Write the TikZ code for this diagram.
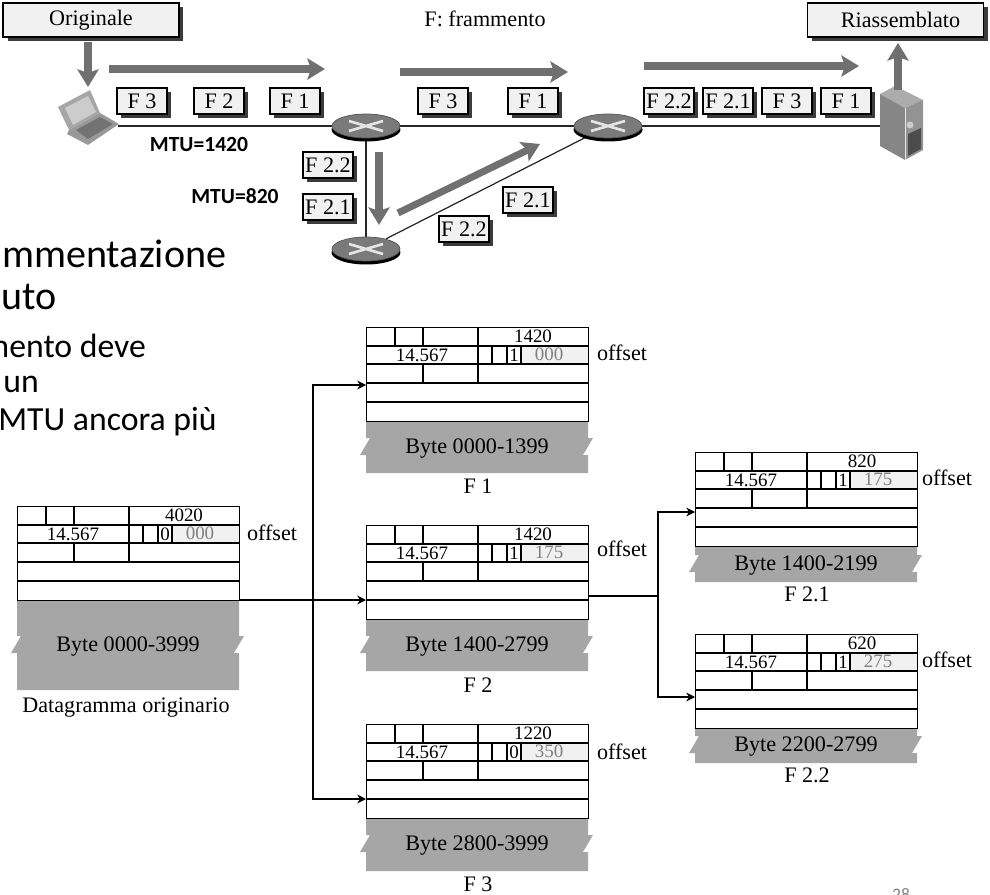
\documentclass[tikz,border=0pt]{standalone}
\usepackage{fontspec}
\setmainfont{Liberation Serif}
\newfontfamily\slidefont{Carlito}
\usepackage{tikz}
\usetikzlibrary{arrows.meta,backgrounds,positioning,calc,shapes.geometric,shadows}
\definecolor{flowgray}{RGB}{112,112,112}
\definecolor{boxfill}{RGB}{241,241,241}
\definecolor{dropshadow}{RGB}{60,60,60}
\definecolor{payload}{RGB}{166,166,166}
\definecolor{offsetgray}{RGB}{128,128,128}
\definecolor{routergray}{RGB}{122,122,122}
\newcommand{\serifsize}{\fontsize{12.6}{14}\selectfont}
\newcommand{\fieldsize}{\fontsize{10.8}{12}\selectfont}
\tikzset{
  txt/.style={inner sep=0pt,font=\serifsize},
  field/.style={inner sep=0pt,font=\fieldsize},
  titlebox/.style={draw=black,line width=.8pt,fill=boxfill,inner sep=0pt,minimum width=3.52cm,minimum height=.68cm,font=\serifsize,
    general shadow={fill=dropshadow,shadow xshift=.09cm,shadow yshift=-.09cm}},
  packet/.style={draw=black,line width=.7pt,fill=boxfill,inner sep=0pt,minimum width=1cm,minimum height=.52cm,font=\serifsize,
    general shadow={fill=dropshadow,shadow xshift=.08cm,shadow yshift=-.08cm}},
  router/.style={ellipse,draw=routergray!70!black,line width=.4pt,fill=routergray,inner sep=0pt,minimum width=1.36cm,minimum height=.48cm},
  flow/.style={flowgray,line width=4pt,-{Stealth[length=10pt,width=12pt,inset=2pt]}},
  wire/.style={line width=.7pt,draw=black!85},
  link/.style={line width=.6pt,-{Stealth[length=5pt,width=5pt]}},
  slide/.style={inner sep=0pt,anchor=west},
  slidebig/.style={slide,font=\slidefont\fontsize{22.8}{26}\selectfont},
  slidesmall/.style={slide,font=\slidefont\fontsize{19.2}{22}\selectfont},
  mtu/.style={inner sep=0pt,font=\slidefont\bfseries\fontsize{12.3}{14}\selectfont},
}
% #1 name, #2 #3 corner, #4 length, #5 flag, #6 offset, #7 byte range, #8 payload height, #9 middle of the tear
\newcommand{\datagram}[9]{
  \fill[payload] (#2,#3+94) -- (#2,#3+94+#9-8) -- (#2+4,#3+94+#9-8) -- (#2-6,#3+94+#9+9) -- (#2,#3+94+#9+9) -- (#2,#3+94+#8)
    -- (#2+222,#3+94+#8) -- (#2+222,#3+94+#9+9) -- (#2+217,#3+94+#9+9) -- (#2+227,#3+94+#9-8) -- (#2+222,#3+94+#9-8) -- (#2+222,#3+94) -- cycle;
  \fill[boxfill] (#2+155,#3+19) rectangle (#2+222,#3+37);
  \node[draw=black,line width=.7pt,inner sep=0pt,minimum width=4.44cm,minimum height=1.88cm,anchor=north west] (#1) at (#2,#3) {};
  \foreach \r in {19,37,56,75} {\draw[line width=.7pt] (#2,#3+\r) -- (#2+222,#3+\r);}
  \draw[line width=.7pt] (#2+29,#3) -- (#2+29,#3+19) (#2+57,#3) -- (#2+57,#3+19) (#2+112,#3) -- (#2+112,#3+56);
  \draw[line width=.7pt] (#2+126,#3+19) -- (#2+126,#3+37) (#2+141,#3+19) -- (#2+141,#3+37) (#2+155,#3+19) -- (#2+155,#3+37);
  \draw[line width=.7pt] (#2+57,#3+37) -- (#2+57,#3+56);
  \node[field] (#1len) at (#2+167,#3+9) {#4};
  \node[field] (#1id) at (#2+56,#3+28) {14.567};
  \node[field] (#1flag) at (#2+148,#3+28) {#5};
  \node[field,text=offsetgray] (#1off) at (#2+183,#3+27) {#6};
  \node[txt] (#1bytes) at (#2+111,#3+97+#9) {#7};
  \coordinate (#1rowc) at (#2,#3+58);
  \coordinate (#1rowd) at (#2,#3+75);
}
\newcommand{\routerat}[3]{
  \fill[black] (#2,#3+3.5) ellipse (.69cm and .24cm);
  \node[router] (#1) at (#2,#3) {};
  \draw[white!90!black,line width=1.5pt] (#2-17,#3-5) -- (#2+17,#3+5) (#2-17,#3+5) -- (#2+17,#3-5);
}
\begin{document}
\begin{tikzpicture}[x=.02cm,y=-.02cm]
\useasboundingbox (0,0) rectangle (990,895);

% text of the slide behind the figure
\node[slidebig] (slidea) at (2,254) {mmentazione};
\node[slidebig] (slideb) at (1,297) {uto};
\node[slidesmall] (slidec) at (-18,346) {mento deve};
\node[slidesmall] (slided) at (3,384) {un};
\node[slidesmall] (slidee) at (-2,422) {MTU ancora più};
\node[inner sep=0pt,text=offsetgray,font=\slidefont\fontsize{10}{12}\selectfont] (pageno) at (901,895) {28};

% top: the network
\node[titlebox] (orig) at (91,20) {Originale\hspace{.28cm}};
\node[titlebox] (reass) at (895.5,20) {\hspace*{.2cm}Riassemblato};
\node[txt] (legend) at (485,19) {F: frammento};

\routerat{ra}{366}{126}
\routerat{rb}{608}{126}
\routerat{rc}{366}{249}

% laptop
\fill[gray!80] (69,130) -- (100,113) -- (119,124) -- (88,145) -- (67,134) -- cycle;
\fill[gray!70] (58,107) -- (90,90) -- (100,113) -- (69,130) -- cycle;
\fill[gray!40] (65,108) -- (88,96) -- (96,112) -- (73,125) -- cycle;
\fill[gray!110] (76,130) -- (100,117) -- (113,124) -- (88,139) -- cycle;
\coordinate (laptop) at (118,126);

% server
\fill[gray!65] (880,94) -- (895,86) -- (923,100) -- (905,108) -- cycle;
\fill[gray!95] (880,94) -- (905,108) -- (905,160) -- (880,146) -- cycle;
\fill[gray!85] (905,108) -- (923,100) -- (923,150) -- (905,160) -- cycle;
\fill[black!70] (908,134) -- (921,128) -- (921,149) -- (908,156) -- cycle;
\fill[gray!40] (910,125) circle (3.5);
\draw[white!80!gray,line width=.4pt] (905,108) -- (905,160);
\coordinate (server) at (880,126);

\begin{scope}[on background layer]
  \draw[wire] (laptop) -- (ra.west);
  \draw[wire] (ra.east) -- (rb.west);
  \draw[wire] (rb.east) -- (server);
  \draw[wire] (ra) -- (rc);
  \draw[wire] (rc) -- (rb);
\end{scope}

\node[packet] (pa) at (142,101) {F 3};
\node[packet] (pb) at (219,101) {F 2};
\node[packet] (pc) at (295,101) {F 1};
\node[packet] (pd) at (443,101) {F 3};
\node[packet] (pe) at (533,101) {F 1};
\node[packet] (pf) at (669,101) {F 2.2};
\node[packet] (pg) at (728,101) {F 2.1};
\node[packet] (ph) at (787,101) {F 3};
\node[packet] (pi) at (846,101) {F 1};
\node[packet] (pj) at (328,165) {F 2.2};
\node[packet] (pk) at (328,207) {F 2.1};
\node[packet] (pl) at (464,229) {F 2.2};
\node[packet] (pm) at (528,200) {F 2.1};

\node[mtu] (mtua) at (199,144) {MTU=1420};
\node[mtu] (mtub) at (235,196) {MTU=820};

\coordinate (downa) at (88,42);
\coordinate (downb) at (88,87);
\coordinate (upa) at (898,90);
\coordinate (upb) at (898,43);
\coordinate (hopa) at (109,69);
\coordinate (hopb) at (325,69);
\coordinate (hopc) at (400,72);
\coordinate (hopd) at (568,72);
\coordinate (hope) at (644,66);
\coordinate (hopf) at (859,66);
\coordinate (sidea) at (379,152);
\coordinate (sideb) at (379,225);
\coordinate (diaga) at (398,213);
\coordinate (diagb) at (540,144);
\draw[flow] (downa) -- (downb);
\draw[flow] (upa) -- (upb);
\draw[flow] (hopa) -- (hopb);
\draw[flow] (hopc) -- (hopd);
\draw[flow] (hope) -- (hopf);
\draw[flow] (sidea) -- (sideb);
\draw[flow] (diaga) -- (diagb);

% bottom: the datagrams
\datagram{dg}{17}{506}{4020}{0}{000}{Byte 0000-3999}{90}{44}
\datagram{fa}{366}{327}{1420}{1}{000}{Byte 0000-1399}{52}{25}
\datagram{fb}{366}{525}{1420}{1}{175}{Byte 1400-2799}{52}{25}
\datagram{fc}{366}{724}{1220}{0}{350}{Byte 2800-3999}{53}{25}
\datagram{fd}{695}{452}{820}{1}{175}{Byte 1400-2199}{36}{17}
\datagram{fe}{695}{634}{620}{1}{275}{Byte 2200-2799}{35}{16}

\node[txt] (dgname) at (126,708) {Datagramma originario};
\node[txt] (faname) at (478,486) {F 1};
\node[txt] (fbname) at (478,685) {F 2};
\node[txt] (fcname) at (478,884) {F 3};
\node[txt] (fdname) at (807,594) {F 2.1};
\node[txt] (fename) at (807,775) {F 2.2};

\node[txt] (dgoff) at (272,533) {offset};
\node[txt] (faoff) at (622,353) {offset};
\node[txt] (fboff) at (622,549) {offset};
\node[txt] (fcoff) at (622,752) {offset};
\node[txt] (fdoff) at (947,478) {offset};
\node[txt] (feoff) at (947,660) {offset};

\coordinate (forka) at (313,600);
\coordinate (forkb) at (658,596);
\draw[line width=.6pt] (forka -| dg.east) -- (forka);
\draw[link] (forka) -- (fbrowd);
\draw[link] (forka) |- (farowc);
\draw[link] (forka) |- (fcrowd);
\draw[line width=.6pt] (fb.east |- forkb) -- (forkb);
\draw[link] (forkb) |- (fd.west |- 0,512);
\draw[link] (forkb) |- (fe.west |- 0,697);
\end{tikzpicture}
\end{document}
